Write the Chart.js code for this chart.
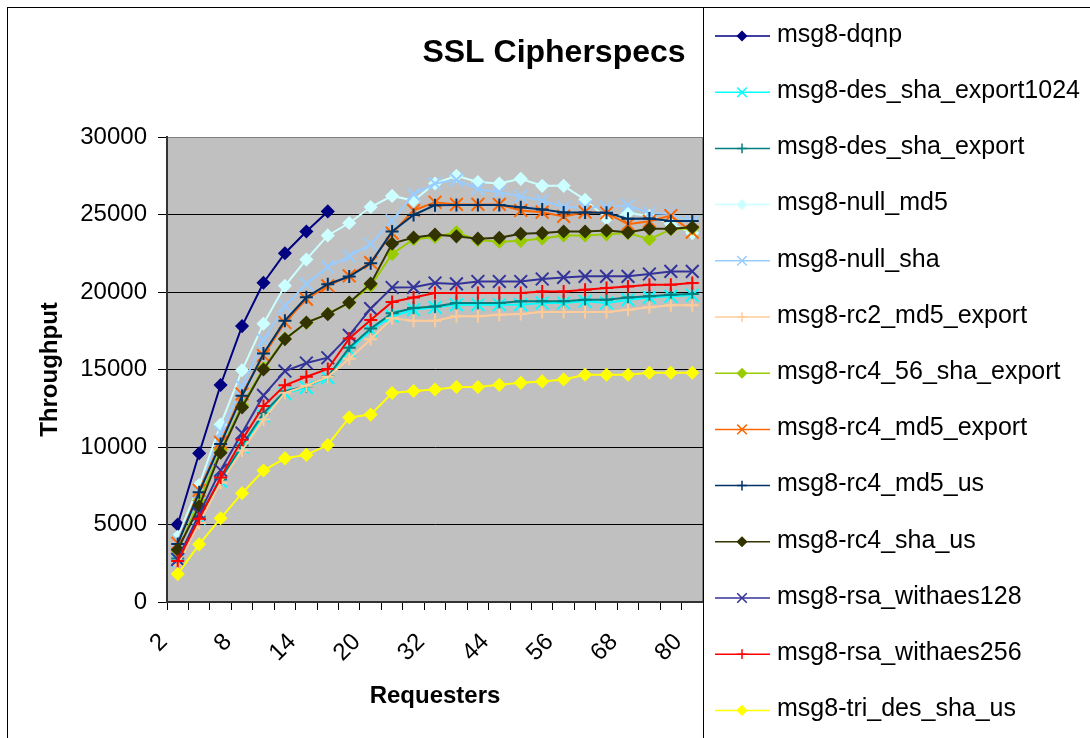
<!DOCTYPE html>
<html>
<head>
<meta charset="utf-8">
<title>SSL Cipherspecs</title>
<script src="https://cdn.jsdelivr.net/npm/chart.js@4.4.1/dist/chart.umd.min.js"></script>
<style>
  html, body { margin: 0; padding: 0; background: #fff; }
  #wrap { width: 1090px; height: 738px; }
</style>
</head>
<body>
<div id="wrap"><canvas id="chart" width="1090" height="738"></canvas></div>
<script>
// x categories (number of requesters), a label is shown every 3rd one
var requesters = ['2', '4', '6', '8', '10', '12', '14', '16', '18', '20', '24', '28', '32',
                  '36', '40', '44', '48', '52', '56', '60', '64', '68', '72', '76', '80'];
var labelEvery = 3;

// y axis range
var yMin = 0;
var yMax = 30000;
var yStep = 5000;

// throughput per series
var dqnp = [5000, 9600, 14000, 17800, 20600, 22500, 23900, 25200];
var desShaExport1024 = [2700, 5400, 7800, 10000, 12000, 13450, 13850, 14470, 16250, 17540, 18440, 18860, 19010,
                        19180, 19180, 19180, 19180, 19290, 19290, 19400, 19290, 19500, 19650, 19720, 19790];
var desShaExport = [2800, 5500, 7900, 10100, 12180, 13600, 13920, 14550, 16400, 17640, 18630, 18970, 19070,
                    19290, 19290, 19290, 19400, 19400, 19400, 19500, 19500, 19650, 19720, 19830, 19870];
var nullMd5 = [4200, 7550, 11450, 14950, 17950, 20400, 22100, 23650, 24450, 25480, 26200, 25900, 27000,
               27500, 27100, 27000, 27300, 26850, 26850, 25950, 24750, 25100, 24900, 24400, 23800];
var nullSha = [3950, 7100, 10950, 13900, 16900, 19100, 20520, 21620, 22300, 23100, 24600, 26300, 27000,
               27230, 26650, 26430, 26160, 25900, 25470, 25470, 25470, 25580, 25080, 25040, 24510];
var rc2Md5Export = [2400, 5100, 7700, 9770, 11780, 13500, 13950, 14530, 15700, 16950, 18300, 18150, 18150,
                    18430, 18430, 18540, 18580, 18710, 18710, 18710, 18710, 18860, 19010, 19140, 19140];
var rc4_56ShaExport = [3300, 6550, 9800, 12700, 15100, 17000, 18000, 18600, 19300, 20400, 22450, 23400, 23550,
                       23850, 23350, 23250, 23300, 23450, 23650, 23650, 23720, 23800, 23400, 24050, 24100];
var rc4Md5Export = [3800, 7200, 10300, 13420, 15900, 18030, 19540, 20400, 21040, 21900, 23800, 25260, 25790,
                    25650, 25650, 25650, 25260, 25150, 24880, 25150, 25100, 24370, 24560, 24930, 23860];
var rc4Md5Us = [3750, 7080, 10200, 13300, 16030, 18150, 19660, 20500, 21000, 21860, 23900, 24970, 25600,
                25620, 25620, 25620, 25470, 25330, 25130, 25130, 25110, 24720, 24740, 24580, 24580];
var rc4ShaUs = [3370, 6170, 9630, 12560, 15000, 16960, 18030, 18570, 19320, 20540, 23120, 23520, 23700,
                23590, 23440, 23500, 23760, 23800, 23900, 23900, 23970, 23850, 24080, 24080, 24180];
var rsaWithAes128 = [2750, 5690, 8500, 10900, 13330, 14900, 15420, 15760, 17200, 18930, 20290, 20300, 20580,
                     20520, 20680, 20680, 20680, 20840, 20940, 21010, 21010, 21010, 21160, 21330, 21330];
var rsaWithAes256 = [2650, 5370, 8030, 10460, 12640, 13980, 14530, 15030, 17000, 18200, 19360, 19650, 19940,
                     19940, 19940, 19940, 19940, 20040, 20040, 20150, 20260, 20360, 20470, 20470, 20580];
var triDesShaUs = [1800, 3720, 5400, 7020, 8480, 9270, 9490, 10130, 11910, 12090, 13480, 13610, 13710,
                   13870, 13870, 14010, 14140, 14230, 14360, 14660, 14660, 14660, 14790, 14790, 14790];

var seriesNames = ['msg8-dqnp', 'msg8-des_sha_export1024', 'msg8-des_sha_export', 'msg8-null_md5',
                   'msg8-null_sha', 'msg8-rc2_md5_export', 'msg8-rc4_56_sha_export', 'msg8-rc4_md5_export',
                   'msg8-rc4_md5_us', 'msg8-rc4_sha_us', 'msg8-rsa_withaes128', 'msg8-rsa_withaes256',
                   'msg8-tri_des_sha_us'];
var seriesValues = [dqnp, desShaExport1024, desShaExport, nullMd5, nullSha, rc2Md5Export, rc4_56ShaExport,
                    rc4Md5Export, rc4Md5Us, rc4ShaUs, rsaWithAes128, rsaWithAes256, triDesShaUs];

var chartTitle = 'SSL Cipherspecs';

// styles
var seriesColors = ['#000080', '#00FFFF', '#008080', '#CCFFFF', '#99CCFF', '#FFCC99', '#99CC00',
                    '#FF6600', '#003366', '#333300', '#333399', '#FF0000', '#FFFF00'];
var seriesMarkers = ['rectRot', 'crossRot', 'cross', 'rectRot', 'crossRot', 'cross', 'rectRot',
                     'crossRot', 'cross', 'rectRot', 'crossRot', 'cross', 'rectRot'];
var fontFamily = '"Liberation Sans", Arial, sans-serif';

var datasets = seriesNames.map(function(name, i) {
    var m = seriesMarkers[i];
    return {
        label: name,
        data: seriesValues[i],
        borderColor: seriesColors[i],
        backgroundColor: seriesColors[i],
        pointBackgroundColor: seriesColors[i],
        pointBorderColor: seriesColors[i],
        borderWidth: 2,
        pointStyle: m,
        pointRadius: m === 'rectRot' ? 6 : (m === 'crossRot' ? 9 : 6.5),
        pointBorderWidth: m === 'rectRot' ? 1.5 : 2,
        order: -i   // later series drawn on top
    };
});

// grey plot area, frames, title and the legend on the right
var frameAndLegend = {
    id: 'frameAndLegend',
    beforeDraw: function(chart) {
        var ctx = chart.ctx, a = chart.chartArea;
        ctx.save();
        ctx.fillStyle = '#fff';
        ctx.fillRect(0, 0, chart.width, chart.height);
        ctx.fillStyle = '#c0c0c0';
        ctx.fillRect(a.left, a.top, a.right - a.left, a.bottom - a.top);
        ctx.strokeStyle = '#808080';
        ctx.lineWidth = 1;
        ctx.strokeRect(a.left + 0.5, a.top + 0.5, a.right - a.left - 1, a.bottom - a.top - 1);
        ctx.restore();
    },
    afterDraw: function(chart) {
        var ctx = chart.ctx;
        ctx.save();
        ctx.strokeStyle = '#000';
        ctx.lineWidth = 1;
        ctx.strokeRect(7.5, 7.5, chart.width + 20, chart.height + 20);
        ctx.strokeRect(703.5, 7.5, chart.width, chart.height + 20);

        ctx.fillStyle = '#000';
        ctx.font = 'bold 32px ' + fontFamily;
        ctx.textAlign = 'center';
        ctx.textBaseline = 'alphabetic';
        ctx.fillText(chartTitle, 554, 62);

        ctx.font = '25px ' + fontFamily;
        ctx.textAlign = 'left';
        ctx.textBaseline = 'middle';
        chart.data.datasets.forEach(function(ds, i) {
            var y = 36 + i * 56.2;
            ctx.strokeStyle = ds.borderColor;
            ctx.lineWidth = 1.5;
            ctx.beginPath();
            ctx.moveTo(715, y);
            ctx.lineTo(770, y);
            ctx.stroke();
            ctx.fillStyle = ds.pointBackgroundColor;
            Chart.helpers.drawPoint(ctx, {
                pointStyle: ds.pointStyle,
                radius: ds.pointStyle === 'rectRot' ? 4.5 : ds.pointRadius * 0.75,
                borderWidth: 1.5,
                rotation: 0
            }, 742, y);
            ctx.fillStyle = '#000';
            ctx.fillText(ds.label, 777, y - 1);
        });
        ctx.restore();
    }
};

var ctx = document.getElementById('chart').getContext('2d');
var chart = new Chart(ctx, {
    type: 'line',
    data: {
        labels: requesters,
        datasets: datasets
    },
    options: {
        responsive: false,
        animation: false,
        layout: { padding: { left: 36, right: 387, top: 137, bottom: 0 } },
        plugins: {
            legend: { display: false },
            title: { display: false },
            tooltip: { enabled: false }
        },
        scales: {
            x: {
                offset: true,
                grid: { offset: true, drawOnChartArea: false, tickLength: 8, color: '#000' },
                border: { display: true, color: '#333', width: 2 },
                ticks: {
                    autoSkip: false,
                    minRotation: 45,
                    maxRotation: 45,
                    color: '#000',
                    padding: 18,
                    labelOffset: -14,
                    font: { family: fontFamily, size: 24 },
                    callback: function(value, index) {
                        return index % labelEvery === 0 ? this.getLabelForValue(value) : '';
                    }
                },
                title: {
                    display: true,
                    text: 'Requesters',
                    color: '#000',
                    font: { family: fontFamily, size: 24, weight: 'bold' },
                    padding: { top: 0, bottom: 27 }
                },
                afterFit: function(scale) { scale.height = 136; }
            },
            y: {
                min: yMin,
                max: yMax,
                grid: {
                    color: function(c) { return c.tick && c.tick.value === yMax ? '#808080' : '#000'; },
                    tickColor: '#000',
                    tickLength: 9,
                    lineWidth: 1
                },
                border: { display: true, color: '#333', width: 2 },
                ticks: {
                    stepSize: yStep,
                    color: '#000',
                    padding: 11,
                    font: { family: fontFamily, size: 24 },
                    callback: function(value) { return String(value); }
                },
                title: {
                    display: true,
                    text: 'Throughput',
                    color: '#000',
                    font: { family: fontFamily, size: 24, weight: 'bold' },
                    padding: 0
                },
                afterFit: function(scale) { scale.width = 131; }
            }
        }
    },
    plugins: [frameAndLegend]
});
</script>
</body>
</html>
